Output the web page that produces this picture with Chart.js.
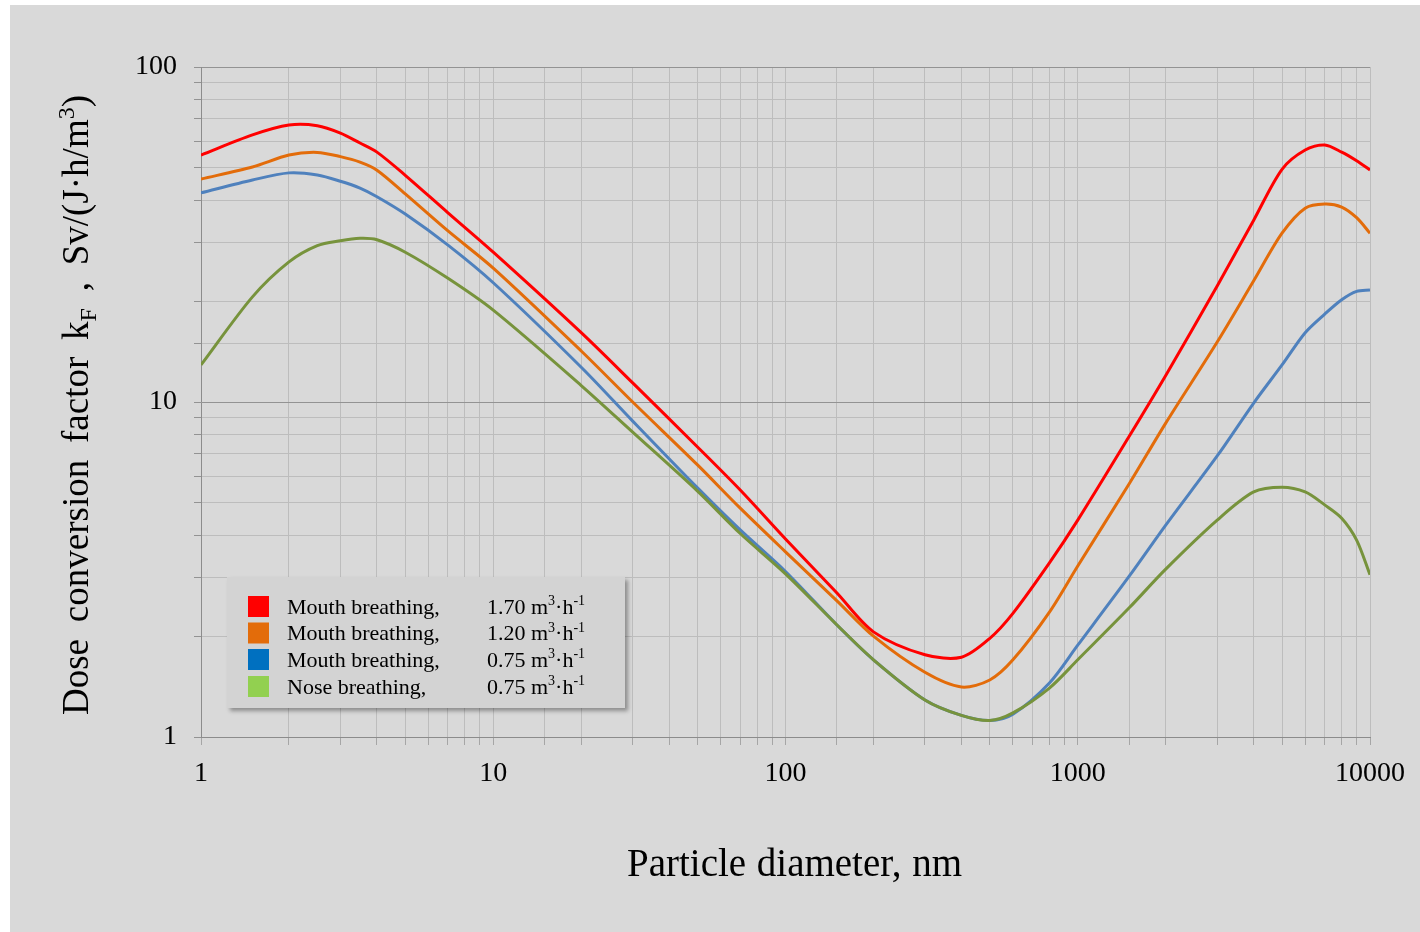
<!DOCTYPE html>
<html>
<head>
<meta charset="utf-8">
<script src="https://cdn.jsdelivr.net/npm/chart.js@4.4.1/dist/chart.umd.min.js"></script>
<style>
  html, body { margin: 0; padding: 0; background: #ffffff; }
  #wrap { width: 1420px; height: 932px; }
</style>
</head>
<body>
<div id="wrap"><canvas id="doseChart" width="1420" height="932"></canvas></div>
<script>
// particle diameter, nm
const diameters = [1, 1.5, 2, 2.5, 3, 3.5, 4, 5, 7, 10, 20, 30, 50, 70, 100, 150, 200, 300, 400, 500,
  600, 800, 1000, 1500, 2000, 3000, 4000, 5000, 6000, 7000, 8000, 9000, 10000];

// dose conversion factor kF, Sv/(J·h/m3)
const mouth170 = [54.6, 62.7, 67.1, 66.8, 63.5, 59.3, 55.7, 47.5, 36.7, 28.0, 16.1, 11.4, 7.34, 5.46, 3.9, 2.69, 2.06, 1.76, 1.73, 1.97,
  2.34, 3.31, 4.44, 7.9, 12.0, 22.2, 34.9, 49.5, 56.5, 58.5, 55.7, 52.5, 49.3];
const mouth120 = [46.3, 50.3, 54.6, 55.6, 54.0, 52.0, 49.2, 41.8, 32.4, 25.1, 14.2, 10.0, 6.49, 4.82, 3.57, 2.55, 2.0, 1.56, 1.41, 1.48,
  1.70, 2.36, 3.24, 5.7, 8.65, 15.1, 23.0, 31.9, 37.9, 39.0, 38.2, 35.5, 31.9];
const mouth075 = [42.1, 46.0, 48.3, 47.6, 45.6, 43.5, 41.0, 36.4, 29.4, 22.7, 12.7, 8.77, 5.54, 4.15, 3.12, 2.16, 1.70, 1.29, 1.16, 1.12,
  1.17, 1.45, 1.88, 3.02, 4.29, 6.9, 9.93, 12.9, 16.1, 18.3, 20.2, 21.4, 21.6];
const nose075 = [12.9, 20.6, 26.2, 29.3, 30.3, 30.8, 30.5, 28.0, 23.4, 18.8, 11.2, 8.13, 5.42, 4.05, 3.07, 2.16, 1.70, 1.29, 1.16, 1.12,
  1.18, 1.40, 1.70, 2.43, 3.17, 4.44, 5.39, 5.57, 5.39, 4.93, 4.5, 3.87, 3.05];

const seriesNames = ['Mouth breathing,', 'Mouth breathing,', 'Mouth breathing,', 'Nose breathing,'];
const seriesRates = ['1.70', '1.20', '0.75', '0.75'];
const lineColors = ['#ff0000', '#e36c0a', '#4f81bd', '#77933c'];
const keyColors = ['#ff0000', '#e36c0a', '#0070c0', '#92d050'];
const seriesValues = [mouth170, mouth120, mouth075, nose075];

const xTickLabels = [1, 10, 100, 1000, 10000];
const yTickLabels = [1, 10, 100];

const SERIF = '"Liberation Serif", "Times New Roman", serif';

function isDecade(v) {
  const l = Math.log10(v);
  return Math.abs(l - Math.round(l)) < 1e-9;
}

// draws a line of text made of runs (normal / sub / sup), spaces stretched to fit a width
function drawRuns(ctx, runs, x0, baseline, size, targetWidth) {
  const small = Math.round(size * 0.65);
  const tokens = [];
  runs.forEach(r => {
    if (r.sub || r.sup) {
      tokens.push({ t: r.t, f: small, dy: r.sub ? size * 0.22 : -size * 0.38 });
    } else {
      r.t.split(/( )/).forEach(p => { if (p !== '') tokens.push({ t: p, f: size, dy: 0, space: p === ' ' }); });
    }
  });
  let natural = 0, spaces = 0;
  tokens.forEach(tk => {
    ctx.font = tk.f + 'px ' + SERIF;
    tk.w = ctx.measureText(tk.t).width;
    natural += tk.w;
    if (tk.space) spaces++;
  });
  const extra = (targetWidth && spaces) ? Math.max(0, (targetWidth - natural) / spaces) : 0;
  let x = x0;
  tokens.forEach(tk => {
    ctx.font = tk.f + 'px ' + SERIF;
    if (!tk.space) ctx.fillText(tk.t, x, baseline + tk.dy);
    x += tk.w + (tk.space ? extra : 0);
  });
}

const decorPlugin = {
  id: 'decor',
  beforeDraw(chart) {
    const ctx = chart.ctx;
    ctx.save();
    ctx.fillStyle = '#d9d9d9';
    ctx.fillRect(10, 5, 1410, 927);
    ctx.restore();
  },
  afterDraw(chart) {
    const ctx = chart.ctx;
    ctx.save();
    ctx.fillStyle = '#000000';
    ctx.textBaseline = 'alphabetic';
    ctx.textAlign = 'left';

    // x axis title
    drawRuns(ctx, [{ t: 'Particle diameter, nm' }], 627, 876, 39, 335);

    // y axis title (rotated)
    ctx.save();
    ctx.translate(88, 405);
    ctx.rotate(-Math.PI / 2);
    drawRuns(ctx, [
      { t: 'Dose conversion factor k' }, { t: 'F', sub: true },
      { t: ' , Sv/(J·h/m' }, { t: '3', sup: true }, { t: ')' }
    ], -310, 0, 37, 620);
    ctx.restore();

    // legend box
    ctx.save();
    ctx.shadowColor = 'rgba(0,0,0,0.35)';
    ctx.shadowOffsetX = 3;
    ctx.shadowOffsetY = 3;
    ctx.shadowBlur = 4;
    ctx.fillStyle = '#d3d3d3';
    ctx.fillRect(227, 577, 398, 131);
    ctx.restore();

    const rowY = [606.5, 633, 659.5, 686.5];
    seriesNames.forEach((name, i) => {
      ctx.fillStyle = keyColors[i];
      ctx.fillRect(248, rowY[i] - 10.5, 21, 21);
      ctx.fillStyle = '#000000';
      drawRuns(ctx, [{ t: name }], 287, rowY[i] + 7, 22);
      drawRuns(ctx, [
        { t: seriesRates[i] + ' m' }, { t: '3', sup: true }, { t: '·h' }, { t: '-1', sup: true }
      ], 487, rowY[i] + 7, 22);
    });
    ctx.restore();
  }
};

new Chart(document.getElementById('doseChart').getContext('2d'), {
  type: 'line',
  data: {
    datasets: seriesValues.map((vals, i) => ({
      label: seriesNames[i] + ' ' + seriesRates[i],
      data: diameters.map((d, j) => ({ x: d, y: vals[j] })),
      borderColor: lineColors[i],
      borderWidth: 3,
      pointRadius: 0,
      fill: false,
      tension: 0.3
    })).reverse()
  },
  options: {
    responsive: false,
    animation: false,
    layout: { padding: { left: 0, top: 67, right: 50, bottom: 0 } },
    plugins: { legend: { display: false }, tooltip: { enabled: false } },
    scales: {
      x: {
        type: 'logarithmic',
        min: 1,
        max: 10000,
        afterFit: s => { s.height = 195; },
        border: { color: '#8c8c8c', width: 1 },
        grid: { color: '#bdbdbd', lineWidth: 1, tickLength: 8, tickColor: '#a6a6a6' },
        ticks: {
          autoSkip: false,
          maxRotation: 0,
          padding: 12,
          color: '#000000',
          font: { family: SERIF, size: 28 },
          callback: v => xTickLabels.includes(v) ? String(v) : ''
        }
      },
      y: {
        type: 'logarithmic',
        min: 1,
        max: 100,
        afterFit: s => { s.width = 201; },
        border: { color: '#8c8c8c', width: 1 },
        grid: {
          color: c => (c.tick && isDecade(c.tick.value)) ? '#939393' : '#bdbdbd',
          lineWidth: 1,
          tickLength: 7,
          tickColor: '#939393'
        },
        ticks: {
          autoSkip: false,
          padding: 17,
          color: '#000000',
          font: { family: SERIF, size: 28 },
          callback: v => yTickLabels.includes(v) ? String(v) : ''
        }
      }
    }
  },
  plugins: [decorPlugin]
});
</script>
</body>
</html>
